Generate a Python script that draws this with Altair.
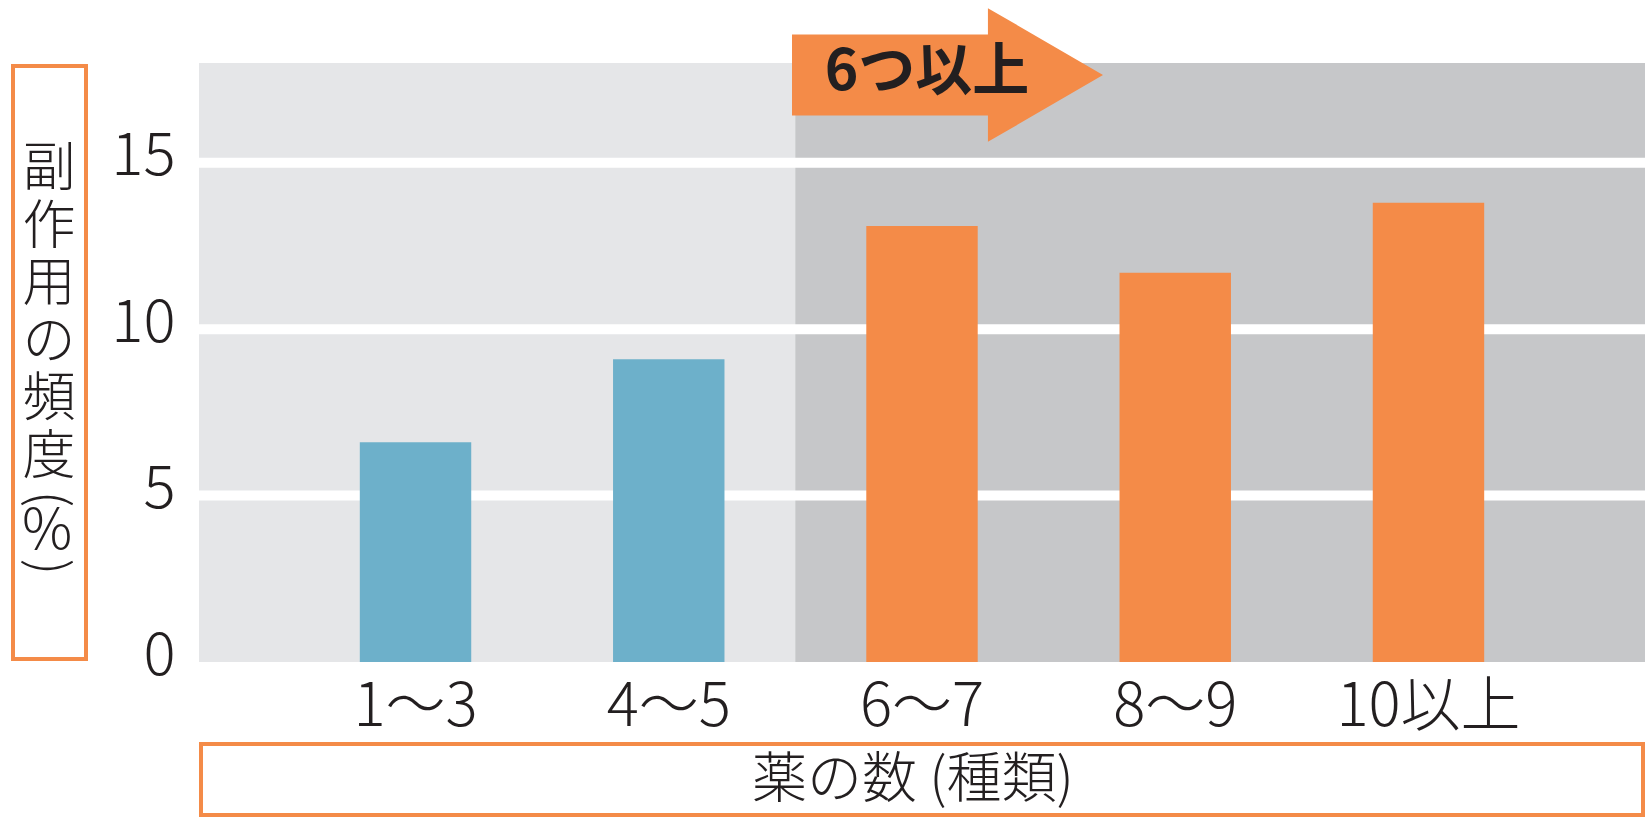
import altair as alt
import pandas as pd

# ---- data ----
categories = ["1～3", "4～5", "6～7", "8～9", "10以上"]
values = [6.6, 9.1, 13.1, 11.7, 13.8]
groups = ["5つ以下", "5つ以下", "6つ以上", "6つ以上", "6つ以上"]
y_ticks = [0, 5, 10, 15]
y_title_chars = ["副", "作", "用", "の", "頻", "度"]
x_title = "薬の数 (種類)"
arrow_label = "6つ以上"

# ---- style ----
FONT = "Noto Sans CJK JP"
TEXT = "#231f20"
ORANGE = "#f48b48"
BLUE = "#6db0ca"
LIGHT = "#e5e6e8"
DARK = "#c6c7c9"
W, H = 1446, 599

df = pd.DataFrame({"cat": categories, "value": values, "group": groups})

xscale = alt.Scale(domain=categories, paddingInner=0, paddingOuter=0.355)
yscale = alt.Scale(domain=[0, 18], nice=False)
xaxis = alt.Axis(labelAngle=0, ticks=False, domain=False, grid=False,
                 labelFontSize=60, labelPadding=16, labelFont=FONT,
                 labelFontWeight=300, labelColor=TEXT, title=None,
                 labelLimit=0, labelOverlap=False)
yaxis = alt.Axis(values=y_ticks, ticks=False, domain=False, grid=False,
                 labelFontSize=60, labelPadding=24, labelFont=FONT,
                 labelFontWeight=300, labelColor=TEXT, title=None,
                 labelFlush=False, labelOverlap=False, labelOffset=-6)

# dark background for "6つ以上" region: from start of the 6～7 band to right edge
dark = alt.Chart(pd.DataFrame({"cat": ["6～7"]})).mark_rect(color=DARK).encode(
    x=alt.X("cat:N", scale=xscale, axis=xaxis, bandPosition=0),
    x2=alt.value(W),
    y=alt.value(0),
    y2=alt.value(H),
)

grid = alt.Chart(pd.DataFrame({"v": y_ticks[1:]})).mark_rule(
    color="white", strokeWidth=10
).encode(y=alt.Y("v:Q", scale=yscale, axis=yaxis))

bars = alt.Chart(df).mark_bar(width=alt.RelativeBandSize(0.44)).encode(
    x=alt.X("cat:N", scale=xscale, axis=xaxis, sort=categories),
    y=alt.Y("value:Q", scale=yscale, axis=yaxis),
    color=alt.Color("group:N",
                    scale=alt.Scale(domain=["5つ以下", "6つ以上"], range=[BLUE, ORANGE]),
                    legend=None),
)

one = alt.Data(values=[{}])

arrow_path = "M -1 -0.26 L 0.26 -0.26 L 0.26 -0.43 L 1 0 L 0.26 0.43 L 0.26 0.26 L -1 0.26 Z"
arrow = alt.Chart(one).mark_point(shape=arrow_path, filled=True, fill=ORANGE,
                                  strokeWidth=0, opacity=1, size=311 * 311).encode(
    x=alt.value(748.5), y=alt.value(12))
arrow_text = alt.Chart(one).mark_text(font=FONT, fontSize=57, fontWeight="bold",
                                      color=TEXT, align="center", baseline="middle").encode(
    x=alt.value(728), y=alt.value(10), text=alt.value(arrow_label))

# y title box and vertical text (one upright character per line)
ybox = alt.Chart(one).mark_rect(fill="white", stroke=ORANGE, strokeWidth=4).encode(
    x=alt.value(-186), x2=alt.value(-113), y=alt.value(3), y2=alt.value(596))
ychars = []
for i, ch in enumerate(y_title_chars):
    ychars.append(
        alt.Chart(one).mark_text(font=FONT, fontSize=53, fontWeight=300, color=TEXT,
                                 align="center", baseline="middle").encode(
            x=alt.value(-150), y=alt.value(107 + i * 57.5), text=alt.value(ch))
    )
lparen = alt.Chart(one).mark_text(font=FONT, fontSize=52, fontWeight=300, color=TEXT,
                                  align="center", baseline="middle", angle=90).encode(
    x=alt.value(-152), y=alt.value(436), text=alt.value("("))
pct = alt.Chart(one).mark_text(font=FONT, fontSize=56, fontWeight=300, color=TEXT,
                               align="center", baseline="middle").encode(
    x=alt.value(-152), y=alt.value(469), text=alt.value("%"))
rparen = alt.Chart(one).mark_text(font=FONT, fontSize=52, fontWeight=300, color=TEXT,
                                  align="center", baseline="middle", angle=90).encode(
    x=alt.value(-152), y=alt.value(504), text=alt.value(")"))

# x title box and text
xbox = alt.Chart(one).mark_rect(fill="white", stroke=ORANGE, strokeWidth=4).encode(
    x=alt.value(2), x2=alt.value(1444), y=alt.value(681), y2=alt.value(752))
xtext = alt.Chart(one).mark_text(font=FONT, fontSize=55, fontWeight=300, color=TEXT,
                                 align="center", baseline="middle").encode(
    x=alt.value(714), y=alt.value(717), text=alt.value(x_title))

chart = alt.layer(dark, grid, bars, arrow, arrow_text, ybox, *ychars, lparen, pct, rparen,
                  xbox, xtext).properties(
    width=W, height=H,
    autosize=alt.AutoSizeParams(type="none"),
    padding={"left": 199, "top": 63, "right": 6, "bottom": 156},
    background="white",
).configure_view(fill=LIGHT, stroke=None)

chart.save("out.html", embed_options={"renderer": "svg", "actions": False})
